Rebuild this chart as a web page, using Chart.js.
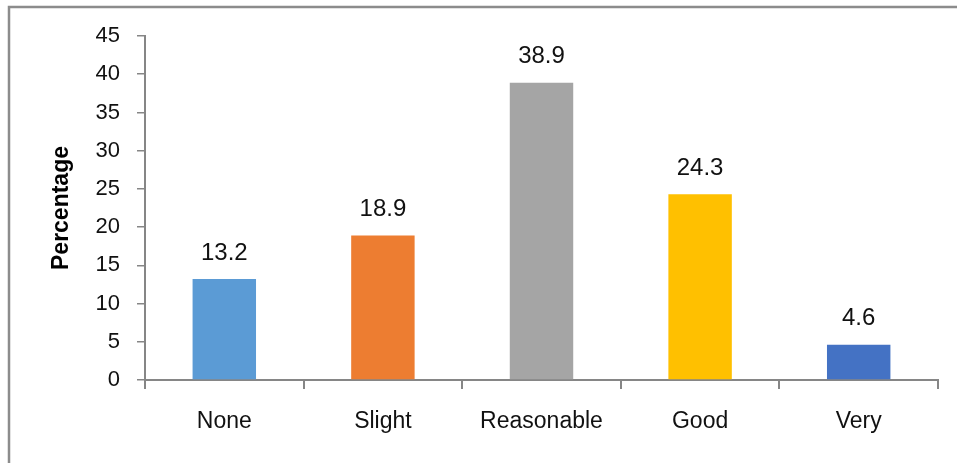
<!DOCTYPE html>
<html>
<head>
<meta charset="utf-8">
<script src="https://cdn.jsdelivr.net/npm/chart.js@4/dist/chart.umd.min.js"></script>
<style>
  html, body { margin: 0; padding: 0; background: #fff; }
  #wrap { width: 957px; height: 463px; position: relative; }
</style>
</head>
<body>
<div id="wrap"><canvas id="c" width="957" height="463"></canvas></div>
<script>
// Category labels and their percentages
const categories = ['None', 'Slight', 'Reasonable', 'Good', 'Very'];
const percentages = [13.2, 18.9, 38.9, 24.3, 4.6];
const barColors = ['#5B9BD5', '#ED7D31', '#A5A5A5', '#FFC000', '#4472C4'];
const yTicks = [0, 5, 10, 15, 20, 25, 30, 35, 40, 45];

const FONT = "'Liberation Sans', Arial, sans-serif";
const AXIS_GREY = '#868686';

// Thin grey frame along the top and left edges
const framePlugin = {
  id: 'frame',
  beforeDraw(chart) {
    const ctx = chart.ctx;
    ctx.save();
    ctx.fillStyle = '#fff';
    ctx.fillRect(0, 0, chart.width, chart.height);
    ctx.strokeStyle = '#8c8c8c';
    ctx.lineWidth = 2.5;
    ctx.beginPath();
    ctx.moveTo(9, chart.height);
    ctx.lineTo(9, 7);
    ctx.lineTo(chart.width, 7);
    ctx.stroke();
    ctx.restore();
  }
};

// Value labels above each bar
const valueLabels = {
  id: 'valueLabels',
  afterDatasetsDraw(chart) {
    const ctx = chart.ctx;
    const meta = chart.getDatasetMeta(0);
    ctx.save();
    ctx.font = '24px ' + FONT;
    ctx.fillStyle = '#111';
    ctx.textAlign = 'center';
    ctx.textBaseline = 'middle';
    meta.data.forEach((bar, i) => {
      ctx.fillText(percentages[i].toFixed(1), bar.x, bar.y - 26);
    });
    ctx.restore();
  }
};

new Chart(document.getElementById('c'), {
  type: 'bar',
  data: {
    labels: categories,
    datasets: [{
      data: percentages,
      backgroundColor: barColors,
      borderWidth: 0,
      barPercentage: 0.4,
      categoryPercentage: 1.0
    }]
  },
  options: {
    responsive: false,
    animation: false,
    devicePixelRatio: 1,
    layout: { padding: { top: 36, right: 19, left: 0, bottom: 0 } },
    plugins: {
      legend: { display: false },
      tooltip: { enabled: false }
    },
    scales: {
      x: {
        grid: {
          offset: true,
          drawOnChartArea: false,
          drawTicks: true,
          tickLength: 9,
          color: AXIS_GREY,
          lineWidth: 2
        },
        border: { color: AXIS_GREY, width: 2 },
        ticks: {
          color: '#111',
          font: { family: FONT, size: 23 },
          padding: 19,
          maxRotation: 0
        },
        afterFit(scale) { scale.height = 83; }
      },
      y: {
        min: 0,
        max: 45,
        afterBuildTicks(scale) { scale.ticks = yTicks.map(v => ({ value: v })); },
        grid: {
          drawOnChartArea: false,
          drawTicks: true,
          tickLength: 8,
          color: AXIS_GREY,
          lineWidth: 1.5
        },
        border: { color: AXIS_GREY, width: 2 },
        ticks: {
          color: '#111',
          font: { family: FONT, size: 22 },
          padding: 17
        },
        title: {
          display: true,
          text: 'Percentage',
          color: '#000',
          font: { family: FONT, size: 23, weight: 'bold' },
          padding: { top: 48, bottom: 0 }
        },
        afterFit(scale) { scale.width = 145; }
      }
    }
  },
  plugins: [framePlugin, valueLabels]
});
</script>
</body>
</html>
